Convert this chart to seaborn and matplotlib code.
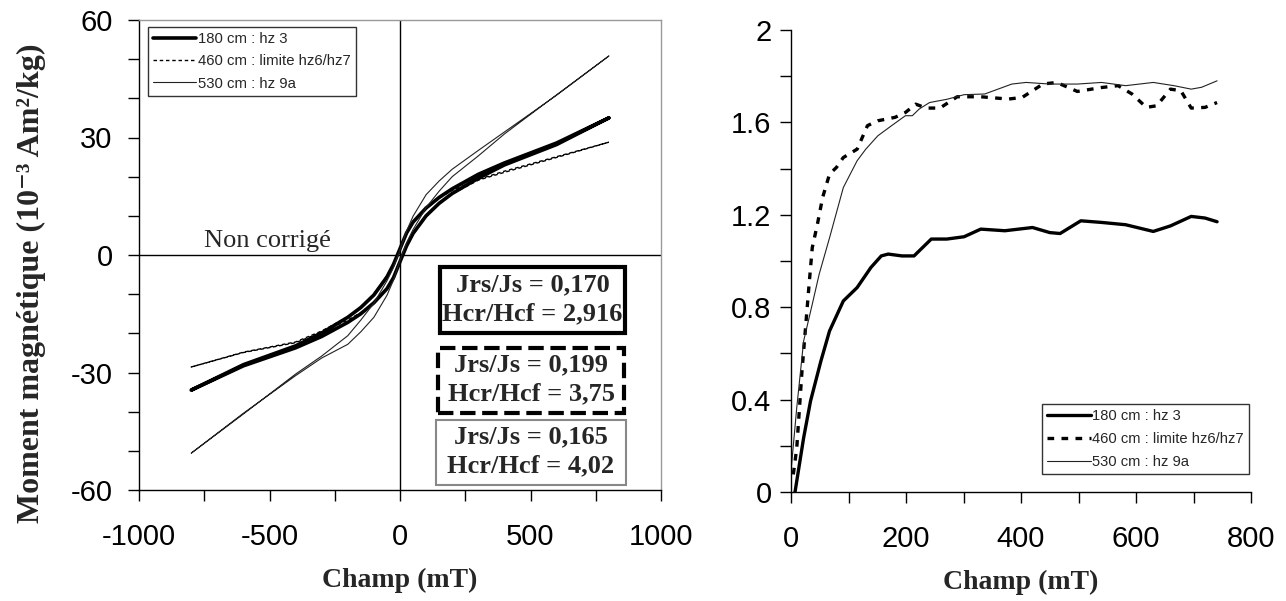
import matplotlib
matplotlib.use("Agg")
import matplotlib.pyplot as plt
import seaborn as sns
import pandas as pd
import numpy as np
from matplotlib.lines import Line2D
from matplotlib.patches import Rectangle
from matplotlib.ticker import MultipleLocator, FuncFormatter

sns.set_style("white")
plt.rcParams['font.family'] = ['Liberation Sans', 'DejaVu Sans']
plt.rcParams['axes.unicode_minus'] = False

# ---------------- Left panel: hysteresis loops ----------------
H_desc = [800, 600, 400, 300, 200, 150, 100, 50, 25, 0, -25, -50, -100, -150, -200, -300, -400, -600, -800]
H_asc = [-800, -600, -400, -300, -200, -150, -100, -50, -25, 0, 25, 50, 100, 150, 200, 300, 400, 600, 800]

m180_desc = [35.0, 28.6, 23.5, 20.6, 16.9, 14.7, 12.0, 8.4, 5.6, 1.6, -2.4, -5.6, -10.2, -13.4, -15.9, -19.9, -23.2, -28.0, -34.5]
m180_asc = [-34.5, -28.3, -23.7, -20.8, -17.2, -15.0, -12.2, -8.6, -5.8, -1.7, 2.3, 5.5, 10.0, 13.2, 15.7, 19.6, 23.0, 28.2, 35.0]
m460_desc = [28.8, 25.1, 21.4, 19.3, 16.5, 14.5, 11.9, 8.3, 5.5, 1.7, -2.3, -5.3, -9.9, -13.2, -15.8, -19.4, -22.2, -24.8, -28.6]
m460_asc = [-28.6, -24.9, -22.4, -19.7, -16.6, -14.7, -12.1, -8.5, -5.7, -1.8, 2.2, 5.2, 9.8, 13.0, 15.6, 19.1, 21.1, 24.9, 28.8]
m530_desc = [50.8, 40.8, 31.4, 26.7, 21.9, 18.9, 15.4, 9.9, 6.1, 1.3, -3.2, -6.6, -12.3, -16.6, -20.6, -25.8, -30.4, -40.6, -50.6]
m530_asc = [-50.6, -40.4, -30.8, -26.3, -22.8, -19.6, -15.9, -10.3, -6.4, -1.4, 3.1, 6.5, 12.1, 16.3, 20.0, 25.3, 30.9, 40.9, 50.8]

labels = ["180 cm : hz 3", "460 cm : limite hz6/hz7", "530 cm : hz 9a"]
ratio_texts = ["Jrs/Js = 0,170\nHcr/Hcf = 2,916",
               "Jrs/Js = 0,199\nHcr/Hcf = 3,75",
               "Jrs/Js = 0,165\nHcr/Hcf = 4,02"]

# ---------------- Right panel: IRM acquisition ----------------
irm180_H = [7, 22, 34, 52, 67, 91, 115, 139, 157, 169, 193, 214, 223, 244, 271, 301, 330, 372, 420, 450, 468, 504, 540, 582, 630, 660, 696, 720, 741]
irm180_M = [0.0, 0.235, 0.394, 0.567, 0.697, 0.827, 0.885, 0.972, 1.022, 1.030, 1.022, 1.022, 1.044, 1.095, 1.095, 1.105, 1.138, 1.131, 1.145, 1.123, 1.119, 1.174, 1.167, 1.157, 1.128, 1.152, 1.193, 1.186, 1.170]

irm460_H = [4, 10, 19, 31, 37, 46, 55, 67, 79, 91, 115, 133, 151, 181, 199, 217, 235, 259, 289, 330, 378, 402, 438, 462, 498, 540, 569, 593, 618, 636, 660, 678, 696, 720, 741]
irm460_M = [0.076, 0.19, 0.52, 0.885, 1.058, 1.16, 1.275, 1.376, 1.405, 1.448, 1.484, 1.586, 1.607, 1.622, 1.643, 1.679, 1.662, 1.662, 1.711, 1.711, 1.701, 1.708, 1.766, 1.773, 1.734, 1.751, 1.759, 1.723, 1.665, 1.672, 1.744, 1.737, 1.662, 1.665, 1.686]

irm530_H = [0, 10, 22, 37, 49, 67, 91, 115, 130, 151, 175, 199, 211, 223, 241, 271, 301, 337, 384, 409, 450, 498, 540, 582, 630, 666, 696, 714, 741]
irm530_M = [0.09, 0.365, 0.654, 0.813, 0.943, 1.10, 1.318, 1.434, 1.484, 1.542, 1.586, 1.629, 1.629, 1.658, 1.686, 1.70, 1.72, 1.723, 1.766, 1.773, 1.766, 1.766, 1.773, 1.759, 1.773, 1.759, 1.744, 1.752, 1.780]

fig = plt.figure(figsize=(12.86, 6.01), dpi=100)
axL = fig.add_axes([139/1286, 111/601, 522/1286, 470/601])
axR = fig.add_axes([791/1286, 109/601, 460/1286, 462/601])

styles = [dict(color='black', lw=2.6, ls='-'),
          dict(color='black', lw=1.0, ls=(0, (2.5, 2))),
          dict(color='#222222', lw=0.8, ls='-')]

loops = [(m180_desc, m180_asc), (m460_desc, m460_asc), (m530_desc, m530_asc)]
for (md, ma), st in zip(loops, styles):
    df = pd.DataFrame({"H": H_desc + H_asc, "M": md + ma})
    sns.lineplot(data=df, x="H", y="M", sort=False, estimator=None, ax=axL,
                 color=st['color'], lw=st['lw'], linestyle=st['ls'])

axL.set_xlim(-1000, 1000)
axL.set_ylim(-60, 60)
axL.axhline(0, color='black', lw=1.0, zorder=0.5)
axL.axvline(0, color='black', lw=1.0, zorder=0.5)
axL.xaxis.set_major_locator(MultipleLocator(500))
axL.xaxis.set_minor_locator(MultipleLocator(250))
axL.yaxis.set_major_locator(MultipleLocator(30))
axL.yaxis.set_minor_locator(MultipleLocator(10))
for ax in (axL, axR):
    ax.tick_params(axis='both', which='both', direction='out', length=8, width=1,
                   color='black', labelsize=21, labelcolor='black',
                   bottom=True, left=True)
    ax.tick_params(axis='x', which='both', pad=16)
    ax.set_xlabel("Champ (mT)", family='Liberation Serif', fontweight='bold', fontsize=20, labelpad=12)
    ax.set_ylabel("")
axL.tick_params(axis='y', which='both', pad=11)
axR.tick_params(axis='y', which='both', pad=6)

for s in ['left', 'bottom']:
    axL.spines[s].set_color('black')
    axL.spines[s].set_linewidth(1.0)
for s in ['top', 'right']:
    axL.spines[s].set_color('#999999')
    axL.spines[s].set_linewidth(1.0)

axL.set_ylabel("Moment magnétique (10⁻³ Am²/kg)",
               family=['Liberation Serif', 'DejaVu Serif'], fontweight='bold', fontsize=23)
axL.yaxis.set_label_coords(-0.178, 0.44)

axL.text(-750, 3.6, "Non corrigé", family='Liberation Serif', fontsize=19, ha='left', va='center')

# boxes around the ratio texts (x0, x1, y0, y1 in data units)
box_geom = [(153, 862, -19.9, -3.1), (146, 858, -40.3, -23.7), (138, 866, -58.7, -42.1)]
box_styles = [dict(ec='black', lw=3.0, ls='-'),
              dict(ec='black', lw=3.0, ls='--'),
              dict(ec='#888888', lw=1.5, ls='-')]
for txt, (x0, x1, y0, y1), bs in zip(ratio_texts, box_geom, box_styles):
    axL.add_patch(Rectangle((x0, y0), x1 - x0, y1 - y0, fc='white', ec=bs['ec'],
                            lw=bs['lw'], ls=bs['ls'], zorder=3))
    axL.text((x0 + x1) / 2, (y0 + y1) / 2 + 0.2, txt, family='Liberation Serif', fontweight='bold',
             fontsize=19, ha='center', va='center', linespacing=1.32, zorder=4)

hL = [Line2D([], [], color=st['color'], lw=st['lw'], linestyle=st['ls']) for st in styles]
legL = axL.legend(hL, labels, loc='upper left', bbox_to_anchor=(0.017, 0.985), borderaxespad=0,
                  fontsize=10.7, frameon=True, fancybox=False, edgecolor='black', handlelength=2.9,
                  handletextpad=0.1, labelspacing=0.55, borderpad=0.35)
legL.get_frame().set_linewidth(1.0)

# Right panel
stylesR = [dict(color='black', lw=2.4, ls='-'),
           dict(color='black', lw=2.4, ls=(0, (2.0, 2.2))),
           dict(color='#222222', lw=0.8, ls='-')]
irm = [(irm180_H, irm180_M), (irm460_H, irm460_M), (irm530_H, irm530_M)]
for (h, m), st in zip(irm, stylesR):
    df = pd.DataFrame({"H": h, "M": m})
    sns.lineplot(data=df, x="H", y="M", sort=False, estimator=None, ax=axR,
                 color=st['color'], lw=st['lw'], linestyle=st['ls'])

axR.set_xlim(0, 800)
axR.set_ylim(0, 2)
axR.set_ylabel("")
axR.xaxis.set_major_locator(MultipleLocator(200))
axR.xaxis.set_minor_locator(MultipleLocator(100))
axR.yaxis.set_major_locator(MultipleLocator(0.4))
axR.yaxis.set_minor_locator(MultipleLocator(0.2))
axR.yaxis.set_major_formatter(FuncFormatter(lambda v, p: f"{v:g}"))
for s in ['top', 'right']:
    axR.spines[s].set_visible(False)
for s in ['left', 'bottom']:
    axR.spines[s].set_color('black')
    axR.spines[s].set_linewidth(1.0)

hR = [Line2D([], [], color=st['color'], lw=st['lw'], linestyle=st['ls']) for st in stylesR]
legR = axR.legend(hR, labels, loc='lower right', bbox_to_anchor=(0.996, 0.039), borderaxespad=0,
                  fontsize=10.6, frameon=True, fancybox=False, edgecolor='black', handlelength=3.0,
                  handletextpad=0.1, labelspacing=0.6, borderpad=0.35)
legR.get_frame().set_linewidth(1.0)

fig.savefig("out.png", dpi=100, facecolor='white')
